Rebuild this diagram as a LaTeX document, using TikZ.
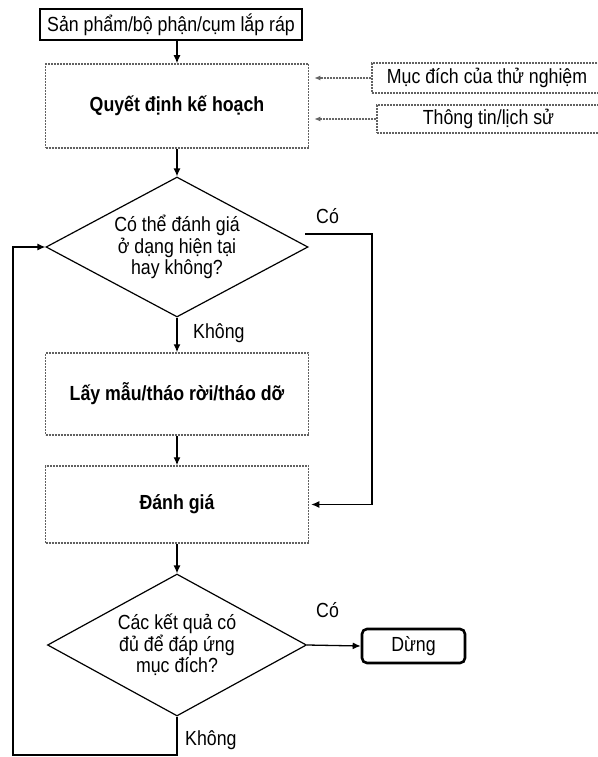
\documentclass[tikz,border=0pt]{standalone}
\usepackage{fontspec}
% taller, narrower Arial-like letters
\setmainfont{Liberation Sans}[FakeStretch=0.87]
\usetikzlibrary{shapes.geometric,arrows.meta,calc}

\begin{document}
\begin{tikzpicture}[x=1pt,y=-1pt,
  font=\fontsize{20.4}{21.5}\selectfont,
  line/.style={line width=1.3pt,draw=black},
  arr/.style={line,-{Latex[length=8pt,width=7pt]}},
  softarr/.style={line width=1.3pt,draw=black!60,dash pattern=on 2pt off 1pt,-{Latex[length=6pt,width=5pt]}},
  solidbox/.style={draw,line width=1.1pt,rectangle,inner sep=0pt,align=center},
  softbox/.style={draw=black!62,dash pattern=on 2pt off 1pt,line width=1.5pt,rectangle,inner sep=0pt,align=center},
  decision/.style={draw,line width=1.2pt,diamond,inner sep=0pt,align=center},
  stopbox/.style={draw,line width=2.6pt,rectangle,rounded corners=5pt,inner sep=0pt,align=center},
  tag/.style={inner sep=0pt},
  heavy/.style={font=\fontsize{20.4}{21.5}\selectfont\bfseries}
]
\useasboundingbox (0,0) rectangle (597,757);

% main column
\node[solidbox,minimum width=262pt,minimum height=31pt] (top) at (171,24.5) {Sản phẩm/bộ phận/cụm lắp ráp};
\node[softbox,heavy,minimum width=263pt,minimum height=84pt] (plan) at (177,106) {Quyết định kế hoạch};
\node[decision,minimum width=262pt,minimum height=140pt,aspect=1.87] (ask) at (177,247) {Có thể đánh giá\\ở dạng hiện tại\\hay không?};
\node[softbox,heavy,minimum width=263pt,minimum height=82pt] (take) at (177,394) {Lấy mẫu/tháo rời/tháo dỡ};
\node[softbox,heavy,minimum width=263pt,minimum height=77pt] (eval) at (177,504.5) {Đánh giá};
\node[decision,minimum width=259pt,minimum height=142pt,aspect=1.82] (enough) at (177,645) {Các kết quả có\\đủ để đáp ứng\\mục đích?};
\node[stopbox,minimum width=103pt,minimum height=34pt] (stop) at (413.5,646) {Dừng};

% inputs on the right
\node[softbox,minimum width=228pt,minimum height=30pt] (goal) at (486,78) {\hspace*{2pt}Mục đích của thử nghiệm};
\node[softbox,minimum width=223pt,minimum height=28pt] (hist) at (488.5,119) {Thông tin/lịch sử};

% labels
\node[tag,anchor=south west] (yes1) at (316,224) {Có};
\node[tag,anchor=west] (no1) at (193,333) {Không};
\node[tag,anchor=south west] (yes2) at (316,618) {Có};
\node[tag,anchor=west] (no2) at (185,740) {Không};

% connectors
\draw[arr] (plan.north |- top.south) -- (plan.north);
\draw[arr] (plan.south) -- (ask.north);
\draw[softarr,shorten >=5pt] (goal.west) -- (plan.east |- goal.west);
\draw[softarr,shorten >=5pt] (hist.west) -- (plan.east |- hist.west);
\draw[arr] (ask.south) -- (take.north);
\draw[arr] (take.south) -- (eval.north);
\coordinate (yesstart) at (305,234);
\draw[arr,shorten >=2pt] (yesstart) -- (372,234) |- (eval.east);
\draw[arr] (eval.south) -- (enough.north);
\draw[arr] (enough.east) -- (stop.west);
\coordinate (loopcorner) at (13,755);
\draw[arr] (enough.south) -- (enough.south |- loopcorner) -- (loopcorner) |- (ask.west);
\end{tikzpicture}
\end{document}
